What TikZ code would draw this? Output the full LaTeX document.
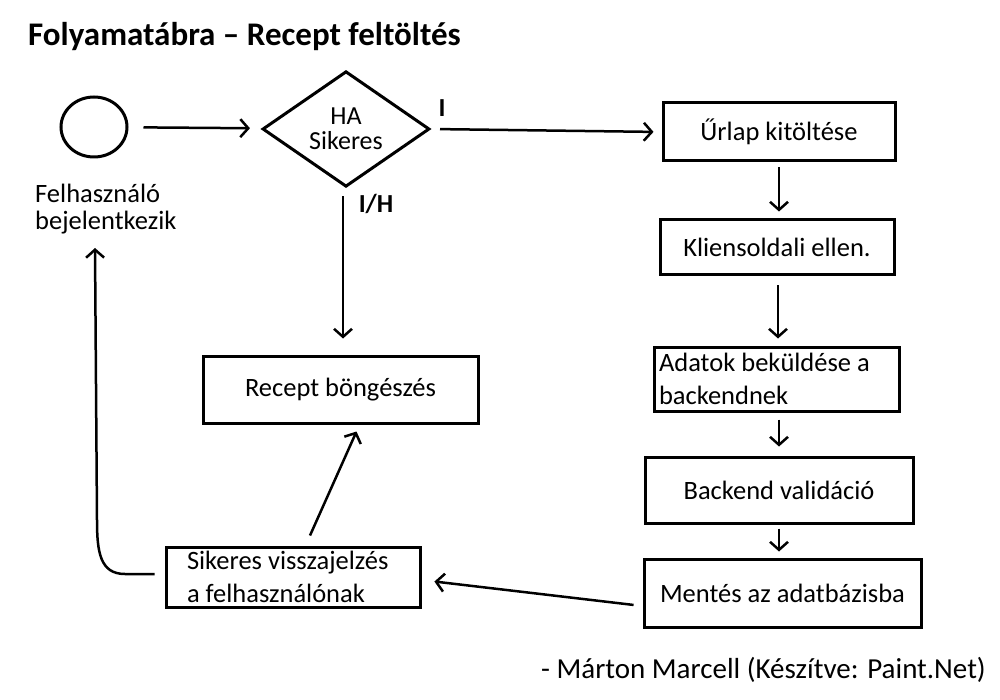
\documentclass[tikz,border=0pt]{standalone}
\usepackage{fontspec}
\setmainfont{Carlito}
\usetikzlibrary{shapes.geometric,arrows.meta}
\tikzset{
  box/.style={draw, line width=3pt, rectangle, inner sep=0pt, font=\fontsize{26.5}{33}\selectfont, align=center},
  lbox/.style={draw, line width=3pt, rectangle, inner ysep=0pt, font=\fontsize{26.5}{33}\selectfont, align=flush left},
  tip/.style={-{Straight Barb[length=8pt,width=18pt,line width=2.5pt]}},
  arr/.style={line width=2.5pt, tip},
  lbl/.style={font=\fontsize{26}{30}\bfseries\selectfont, inner sep=0pt}
}
\begin{document}
\begin{tikzpicture}[x=1pt,y=-1pt]
\useasboundingbox (0,0) rectangle (1000,700);
\node[anchor=base west, inner sep=0pt, font=\fontsize{33}{40}\bfseries\selectfont] (title) at (28,46) {Folyamatábra – Recept feltöltés};
\node[draw, line width=3pt, ellipse, minimum width=66pt, minimum height=60pt, inner sep=0pt] (start) at (94,127) {};
\node[anchor=north west, inner sep=0pt, align=flush left, font=\fontsize{26.5}{27}\selectfont] (login) at (35,184) {Felhasználó\\bejelentkezik};
\node[draw, line width=3pt, diamond, minimum width=167pt, minimum height=110pt, inner sep=0pt, align=center, font=\fontsize{26}{25}\selectfont] (dec) at (346,129) {HA\\Sikeres};
\node[lbl] (li) at (442,108) {I};
\node[lbl] (lih) at (376,204) {I/H};
\node[box, minimum width=232pt, minimum height=58pt] (urlap) at (779,132) {Űrlap kitöltése};
\node[box, minimum width=234pt, minimum height=55pt] (kliens) at (777,247.5) {Kliensoldali ellen.};
\node[lbox, inner xsep=5pt, text width=235pt, minimum height=64pt] (adatok) at (776.5,379) {Adatok beküldése a\\backendnek};
\node[box, minimum width=268pt, minimum height=66pt] (backend) at (779,490) {Backend validáció};
\node[box, minimum width=277pt, minimum height=68pt] (mentes) at (782.5,593) {Mentés az adatbázisba};
\node[lbox, inner xsep=21pt, text width=212pt, minimum height=60pt] (sikeres) at (293,577) {Sikeres visszajelzés\\a felhasználónak};
\node[box, minimum width=275pt, minimum height=67pt] (recept) at (340.5,389.5) {Recept böngészés};
\node[anchor=base west, inner sep=0pt, font=\fontsize{29}{34}\selectfont] (footer) at (541,678) {- Márton Marcell (Készítve: Paint.Net)};
\coordinate (back) at (95,248);
\draw[arr, shorten <=15pt, shorten >=12pt] (start) -- (dec);
\draw[arr, shorten <=9pt, shorten >=8pt] (dec.east) -- (urlap.west);
\draw[arr, shorten <=8pt, shorten >=16pt] ([xshift=-3pt]dec.south) -- ([xshift=-3pt]dec.south |- recept.north);
\draw[arr, shorten <=5pt, shorten >=7pt] (urlap.south) -- (urlap.south |- kliens.north);
\draw[arr, shorten <=9pt, shorten >=7pt] ([xshift=1pt]kliens.south) -- ([xshift=1pt]kliens.south |- adatok.north);
\draw[arr, shorten <=7pt, shorten >=9pt] (urlap.south |- adatok.south) -- (urlap.south |- backend.north);
\draw[arr, shorten <=4pt, shorten >=6pt] (backend.south) -- (backend.south |- mentes.north);
\draw[arr, shorten <=9pt, shorten >=13pt] ([yshift=-13pt]mentes.west) -- ([yshift=-3pt]sikeres.east);
\draw[arr] ([xshift=17pt,yshift=10pt]sikeres.north) -- ([xshift=16pt,yshift=-7pt]recept.south);
\draw[arr] ([xshift=-10pt,yshift=3pt]sikeres.west) -- (125,574) .. controls (100,574) and (97,552) .. (97,520) -- (back);
\end{tikzpicture}
\end{document}
